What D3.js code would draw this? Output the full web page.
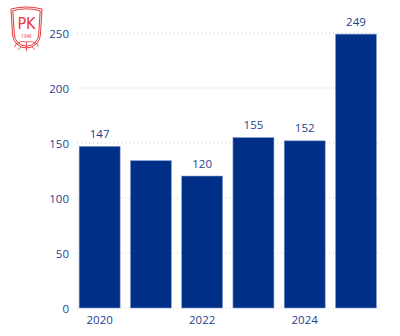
<!DOCTYPE html>
<html><head><meta charset="utf-8">
<script src="https://cdn.jsdelivr.net/npm/d3@7/dist/d3.min.js"></script>
<style>body{margin:0;background:#fff}svg{display:block}</style>
</head><body>
<script>
const years = ["2020","2021","2022","2023","2024","2025"];
const values = [147, 134, 120, 155, 152, 249];
const showValue = [true, false, true, true, true, true];
const xTickLabels = ["2020","2022","2024"];
const yTicks = [0,50,100,150,200,250];

const W=400,H=336;
const svg=d3.select("body").append("svg").attr("width",W).attr("height",H);
const font="'Open Sans', 'Noto Sans', sans-serif";
const txt="#1f3f8f", barC="#002f87";

const x=d3.scaleBand().domain(years).range([74,381.6]).paddingInner(0.2).paddingOuter(0.1);
const y=d3.scaleLinear().domain([0,250]).range([308,33]);

// gridlines
svg.append("g").selectAll("line").data(yTicks).join("line")
  .attr("x1",77).attr("x2",381).attr("y1",d=>y(d)).attr("y2",d=>y(d))
  .attr("stroke","#c8c8c8").attr("stroke-width",1).attr("stroke-dasharray","1,3");

// y axis
const ya=svg.append("g").attr("transform","translate(69,0)")
  .call(d3.axisLeft(y).tickValues(yTicks).tickSize(0).tickPadding(0));
ya.select(".domain").remove();
ya.selectAll("text").attr("font-family",font).attr("font-size","11.5px").attr("fill",txt).attr("dy","0.36em");

// bars
svg.append("g").selectAll("rect").data(values).join("rect")
  .attr("x",(d,i)=>x(years[i])).attr("width",x.bandwidth())
  .attr("y",d=>y(d)).attr("height",d=>y(0)-y(d))
  .attr("fill",barC).attr("stroke","#8fa2d2").attr("stroke-width",0.6);

// value labels
svg.append("g").selectAll("text").data(values.map((v,i)=>({v,i})).filter(d=>showValue[d.i])).join("text")
  .attr("x",d=>x(years[d.i])+x.bandwidth()/2).attr("y",d=>y(d.v)-8.5)
  .attr("text-anchor","middle").attr("font-family",font).attr("font-size","11.5px").attr("fill",txt)
  .text(d=>d.v);

// x axis
const xa=svg.append("g").attr("transform","translate(0,308)")
  .call(d3.axisBottom(x).tickValues(xTickLabels).tickSize(0).tickPadding(0));
xa.select(".domain").remove();
xa.selectAll("text").attr("font-family",font).attr("font-size","11.5px").attr("fill",txt).attr("dy","16px");

// logo
const red="#e8383b";
const lg=svg.append("g").attr("fill","none").attr("stroke",red).attr("stroke-width",1);
const shield=(o)=>`M${11+o},${9+o} Q26.5,${5+o} ${42-o},${9+o} L${40.5-o},34 A${14-o},${14-o} 0 1 1 ${12.5+o},34 Z`;
lg.append("path").attr("d",shield(0));
lg.append("path").attr("d",shield(1.8));
// ball pattern
lg.append("path").attr("d","M16,44 Q21,40 26.5,42 Q32,40 37,44 M26.5,42 L26.5,51 M21,47 L18,50 M32,47 L35,50 M16,44 L14.5,47 M37,44 L38.5,47").attr("stroke-width",0.8);
svg.append("text").attr("x",26.5).attr("y",29).attr("text-anchor","middle")
  .attr("font-family","'Liberation Sans Narrow','DejaVu Sans Condensed',sans-serif").attr("font-size","16px").attr("fill",red).text("PK");
svg.append("text").attr("x",26.5).attr("y",38).attr("text-anchor","middle")
  .attr("font-family",font).attr("font-size","4.5px").attr("fill",red).text("1948");
</script>
</body></html>
